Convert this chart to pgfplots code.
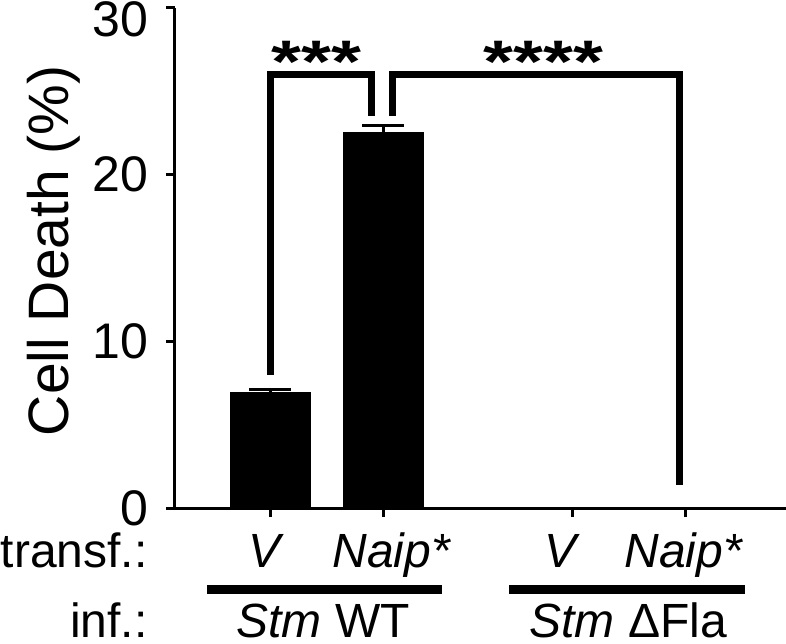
\documentclass[border=0pt]{standalone}
\usepackage{fontspec}
\setmainfont{Liberation Sans}
\usepackage{pgfplots}
\pgfplotsset{compat=1.18}
\begin{document}
\begin{tikzpicture}
\begin{axis}[
  at={(0,0)}, anchor=south west,
  scale only axis, width=305.5pt, height=250.25pt,
  xmin=0.159, xmax=5.566, ymin=0, ymax=30,
  axis x line=bottom, axis y line=left,
  axis line style={line width=1.5pt, -},
  ytick={0,10,20},
  extra y ticks={30},
  extra y tick style={yticklabel style={yshift=-6pt}},
  xtick={1,2,3.68,4.68}, xticklabels={},
  tick style={line width=1.5pt, black},
  major tick length=4.5pt,
  tick align=outside,
  /pgf/number format/assume math mode=true,
  yticklabel style={font=\fontsize{25}{30}\selectfont, inner sep=0pt, anchor=east, xshift=-8.5pt},
  clip=false,
]
\addplot[ybar, bar width=40pt, fill=black, draw=black,
  error bars/.cd, y dir=plus, y explicit,
  error bar style={line width=1.5pt, black},
  error mark options={rotate=90, mark size=10.5pt, line width=1.5pt, black}]
  coordinates {(1,6.9) +- (0,0.18) (2,22.5) +- (0,0.4) (3.68,0) +- (0,0) (4.68,0) +- (0,0)};
% significance brackets
\addplot[sharp plot, no markers, line width=3.5pt, black, line join=miter]
  coordinates {(1,8.0) (1,26.0) (1.894,26.0) (1.894,23.5)};
\addplot[sharp plot, no markers, line width=3.5pt, black, line join=miter]
  coordinates {(2.08,23.5) (2.08,26.0) (4.62,26.0) (4.62,1.4)};
\node[anchor=north, inner sep=0pt, font=\fontsize{30}{32}\selectfont\bfseries] at (axis cs:1.41,28.0) {\scalebox{1.28}[1]{***}};
\node[anchor=north, inner sep=0pt, font=\fontsize{30}{32}\selectfont\bfseries] at (axis cs:3.42,28.0) {\scalebox{1.28}[1]{****}};
% group underlines
\draw[line width=4.5pt] (axis cs:0.442,-4.86) -- (axis cs:2.522,-4.86);
\draw[line width=4.5pt] (axis cs:3.115,-4.86) -- (axis cs:5.204,-4.86);
% labels
\begin{scope}[every node/.style={font=\fontsize{24}{29}\selectfont, inner sep=0pt}]
\node[anchor=base] at ([yshift=-29.5pt]axis cs:0.947,0) {\itshape V};
\node[anchor=base] at ([yshift=-29.5pt]axis cs:2.071,0) {\itshape Naip*};
\node[anchor=base] at ([yshift=-29.5pt]axis cs:3.566,0) {\itshape V};
\node[anchor=base] at ([yshift=-29.5pt]axis cs:4.655,0) {\itshape Naip*};
\node[anchor=base east] at ([xshift=-13.5pt, yshift=-29.5pt]rel axis cs:0,0) {transf.:};
\node[anchor=base east] at ([xshift=-13.5pt, yshift=-64.5pt]rel axis cs:0,0) {inf.:};
\node[anchor=base] at ([yshift=-64.5pt]axis cs:1.47,0) {\textit{Stm} WT};
\node[anchor=base] at ([yshift=-64.5pt]axis cs:4.17,0) {\textit{Stm} ΔFla};
\end{scope}
\node[rotate=90, anchor=base, inner sep=0pt, font=\fontsize{28.5}{34}\selectfont] at ([xshift=-53pt]rel axis cs:0,0.514) {Cell Death (\%)};
\end{axis}
\pgfresetboundingbox
\path (-87.5pt,-67.5pt) rectangle (305.5pt,254pt);
\end{tikzpicture}
\end{document}
